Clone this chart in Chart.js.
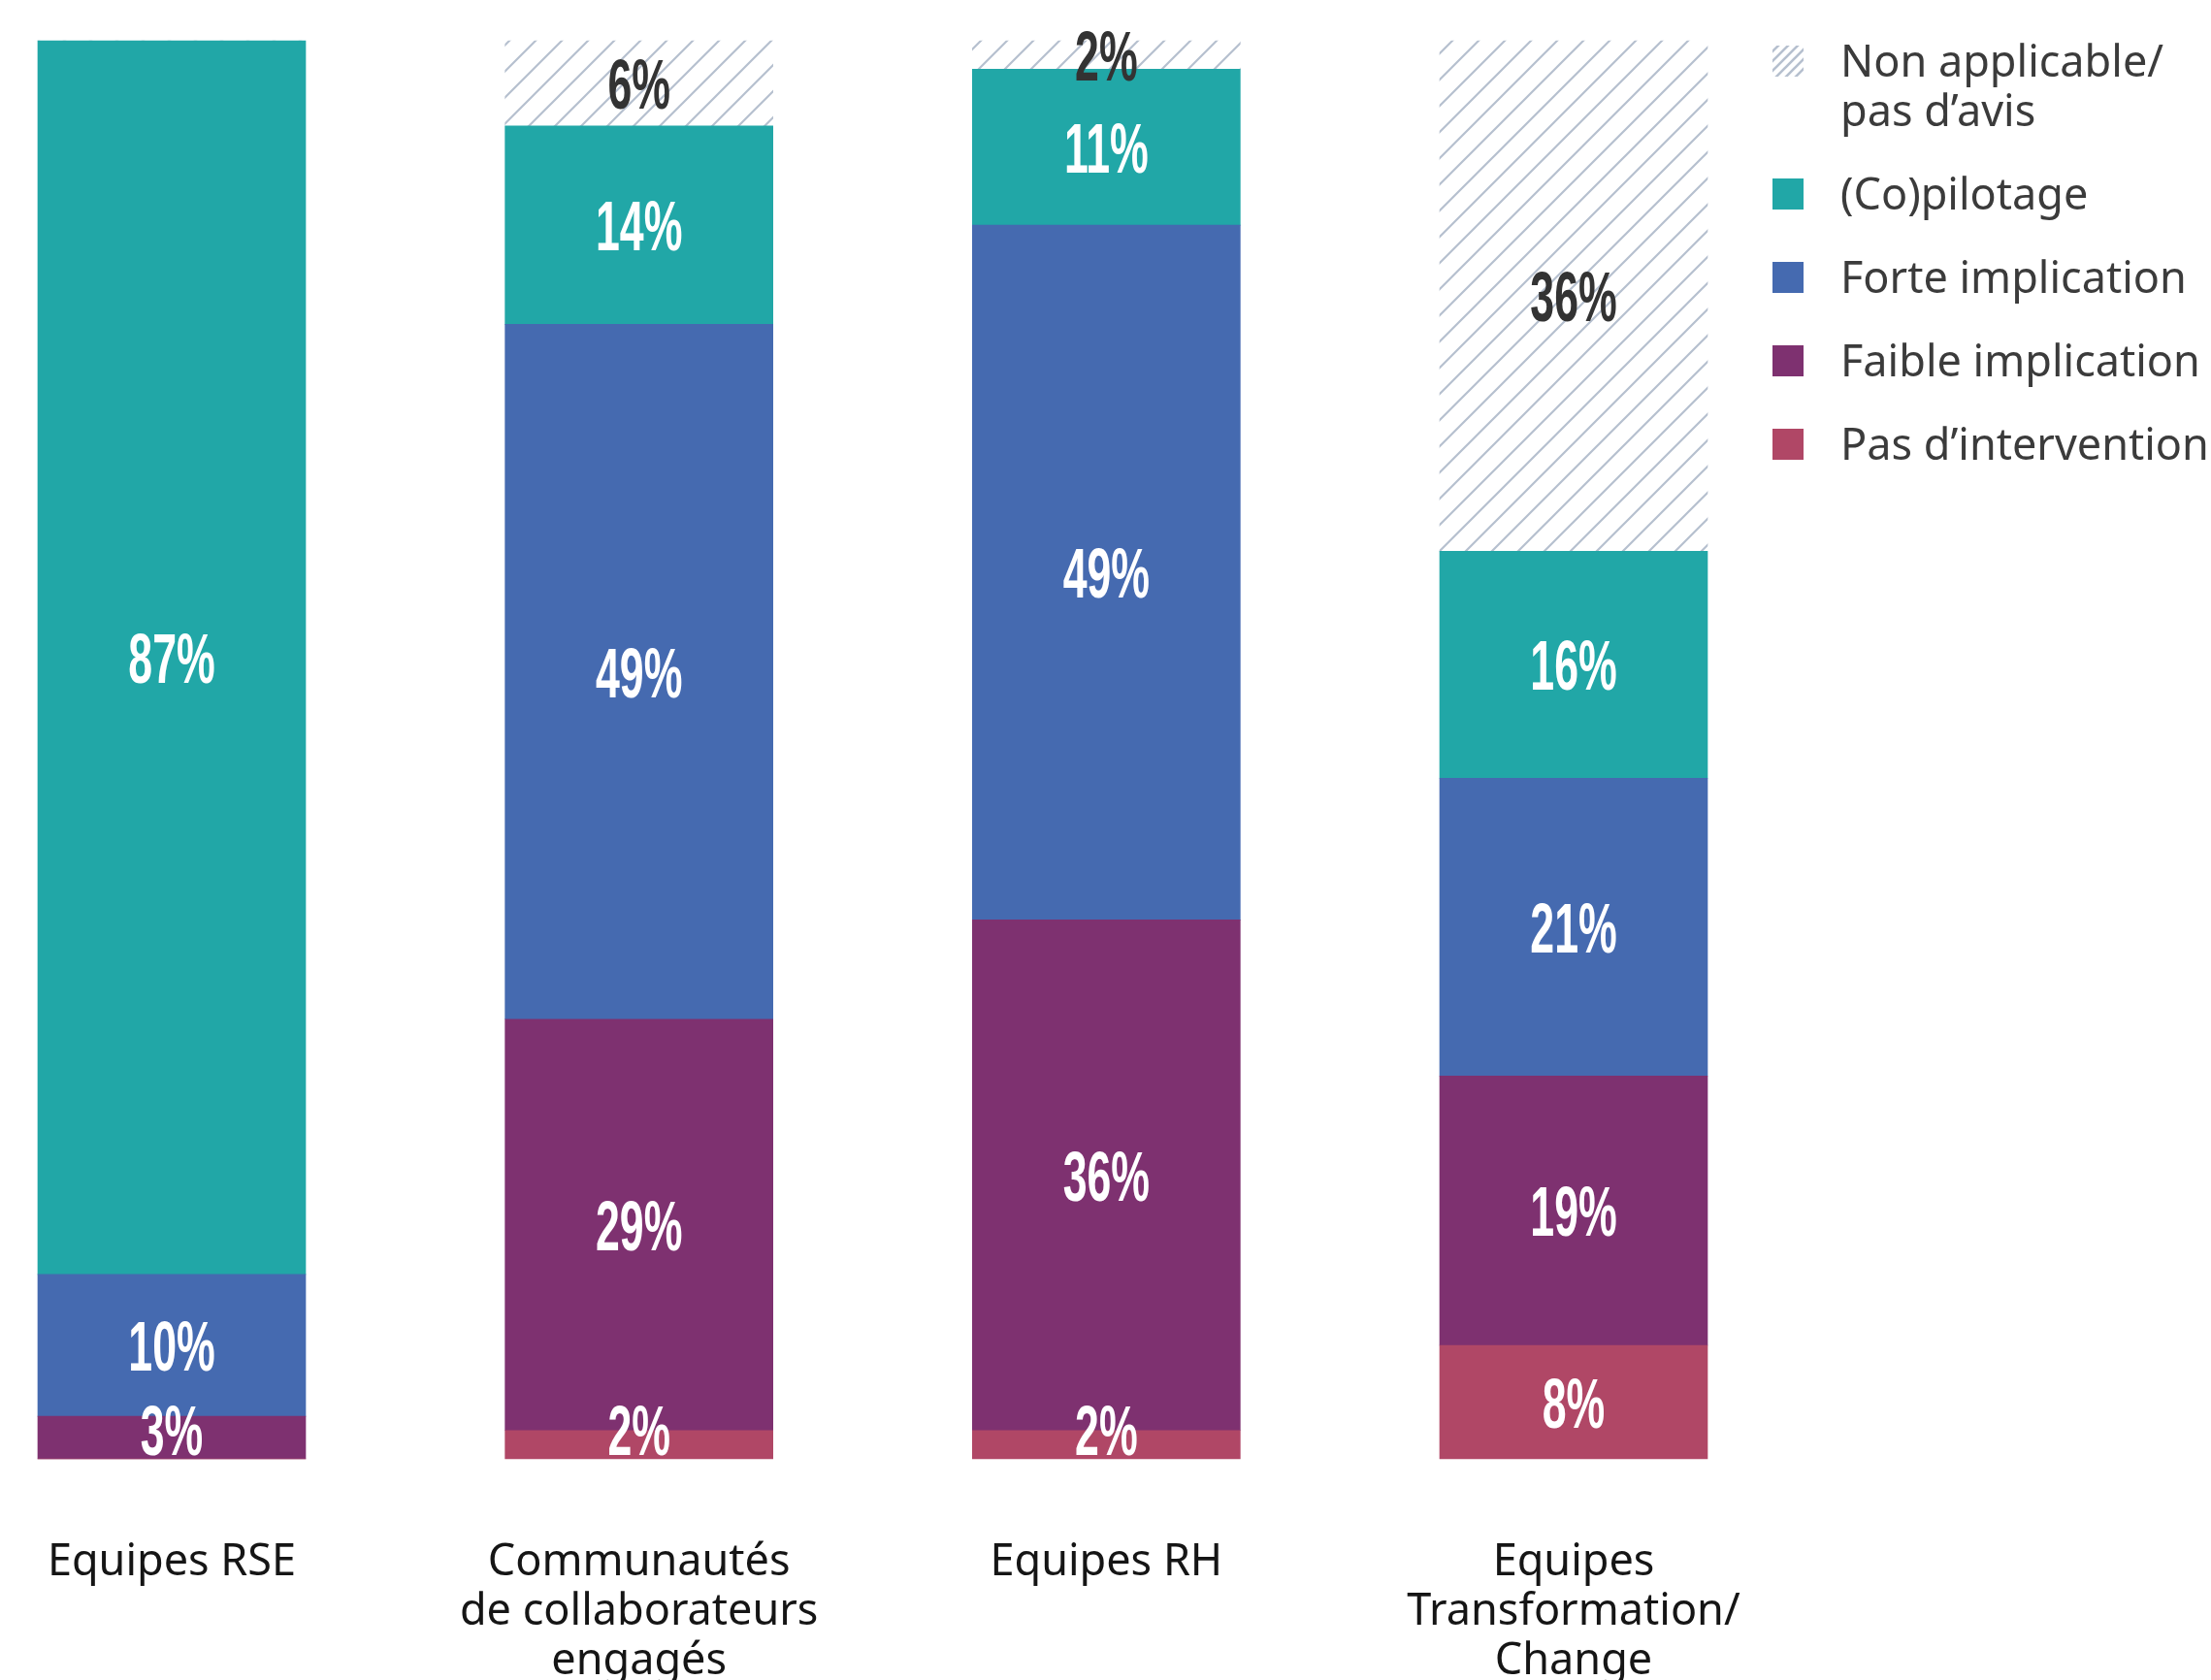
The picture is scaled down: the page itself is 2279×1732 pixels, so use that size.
<!DOCTYPE html>
<html lang="fr">
<head>
<meta charset="utf-8">
<title>Implication des équipes</title>
<script src="https://cdn.jsdelivr.net/npm/chart.js@4.4.1/dist/chart.umd.min.js"></script>
<style>
  html, body { margin: 0; padding: 0; background: #fff; }
  #wrap { width: 2279px; height: 1732px; }
</style>
</head>
<body>
<div id="wrap"><canvas id="chart" width="2279" height="1732"></canvas></div>
<script>
// Categories (multi-line labels as arrays)
const categories = [
  'Equipes RSE',
  ['Communautés', 'de collaborateurs', 'engagés'],
  'Equipes RH',
  ['Equipes', 'Transformation/', 'Change']
];

// Shares in %, stacked from bottom to top
const pasIntervention = [0, 2, 2, 8];
const faibleImplication = [3, 29, 36, 19];
const forteImplication = [10, 49, 49, 21];
const copilotage = [87, 14, 11, 16];
const nonApplicable = [0, 6, 2, 36];

const seriesNames = ['Pas d\u2019intervention', 'Faible implication', 'Forte implication', '(Co)pilotage', ['Non applicable/', 'pas d\u2019avis']];

// diagonal "/" hatch, tile size = horizontal spacing between lines
function makeHatch(s, w) {
  const tile = document.createElement('canvas');
  tile.width = s; tile.height = s;
  const t = tile.getContext('2d');
  t.strokeStyle = '#b6c0cf';
  t.lineWidth = w;
  t.beginPath();
  t.moveTo(-4, s + 4); t.lineTo(s + 4, -4);
  t.moveTo(-4, 4); t.lineTo(4, -4);
  t.moveTo(s - 4, s + 4); t.lineTo(s + 4, s - 4);
  t.stroke();
  return document.getElementById('chart').getContext('2d').createPattern(tile, 'repeat');
}
const hatch = makeHatch(27, 2.2);
const smallHatch = makeHatch(10, 2.6);

// percentage text in the middle of each segment, narrow and tall
const valueLabels = {
  id: 'valueLabels',
  afterDatasetsDraw(chart) {
    const ctx = chart.ctx;
    const floor = chart.chartArea.bottom - 30;
    chart.data.datasets.forEach((ds, i) => {
      const meta = chart.getDatasetMeta(i);
      meta.data.forEach((bar, j) => {
        const v = ds.data[j];
        if (!v) return;
        const p = bar.getProps(['x', 'y', 'base'], true);
        // thin bottom segments: keep the text inside the bar
        const cy = Math.min((p.y + p.base) / 2, floor);
        ctx.save();
        ctx.translate(p.x, cy + 26);
        ctx.scale(0.62, 1);
        ctx.font = 'bold 72px "Liberation Sans"';
        ctx.textAlign = 'center';
        ctx.textBaseline = 'alphabetic';
        ctx.fillStyle = ds.labelColor;
        ctx.fillText(v + '%', 0, 0);
        ctx.restore();
      });
    });
  }
};

// legend on the right, top series first
const sideLegend = {
  id: 'sideLegend',
  afterDraw(chart) {
    const ctx = chart.ctx;
    const boxX = 1827, textX = 1897, box = 32, lineH = 51, rowGap = 86;
    let y = 63;
    ctx.save();
    ctx.font = '45px "Noto Sans"';
    ctx.textAlign = 'left';
    ctx.textBaseline = 'alphabetic';
    chart.data.datasets.slice().reverse().forEach(ds => {
      const lines = Array.isArray(ds.label) ? ds.label : [ds.label];
      ctx.fillStyle = ds.legendColor || ds.backgroundColor;
      ctx.fillRect(boxX, y - box / 2, box, box);
      ctx.fillStyle = '#3b3b3b';
      lines.forEach((ln, k) => ctx.fillText(ln, textX, y + 16 + k * lineH));
      y += (lines.length - 1) * lineH + rowGap;
    });
    ctx.restore();
  }
};

const colors = ['#b04766', '#7e3170', '#456ab0', '#21a7a7', hatch];
const series = [pasIntervention, faibleImplication, forteImplication, copilotage, nonApplicable];

new Chart(document.getElementById('chart'), {
  type: 'bar',
  data: {
    labels: categories,
    datasets: series.map((d, i) => ({
      label: seriesNames[i],
      data: d,
      backgroundColor: colors[i],
      legendColor: i === 4 ? smallHatch : undefined,
      borderWidth: 0,
      barThickness: 276,
      clip: false,
      labelColor: i === 4 ? '#333333' : '#ffffff'
    }))
  },
  options: {
    responsive: false,
    devicePixelRatio: 1,
    animation: false,
    layout: { padding: { top: 42, left: 177, right: 657, bottom: 0 } },
    plugins: { legend: { display: false }, tooltip: { enabled: false } },
    scales: {
      x: {
        stacked: true,
        offset: false,
        grid: { display: false, drawTicks: false },
        border: { display: false },
        ticks: {
          padding: 82,
          color: '#151515',
          font: { family: 'Noto Sans', size: 45, lineHeight: 51 / 45 },
          maxRotation: 0,
          autoSkip: false
        },
        afterFit(scale) {
          // keep the chart area fixed; labels have room in the margins
          scale.height = 228;
          scale.paddingLeft = 0;
          scale.paddingRight = 0;
        }
      },
      y: { stacked: true, display: false, min: 0, max: 100 }
    }
  },
  plugins: [valueLabels, sideLegend]
});
</script>
</body>
</html>
